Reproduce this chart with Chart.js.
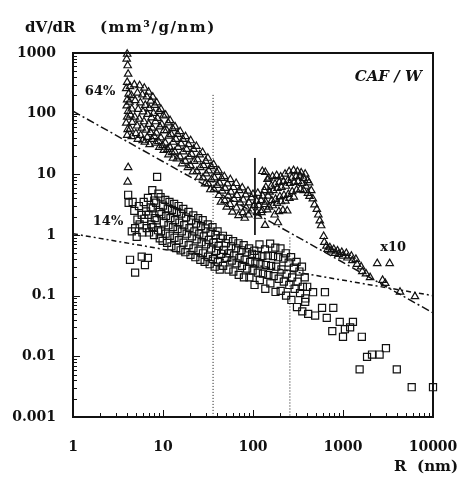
<!DOCTYPE html>
<html><head><meta charset="utf-8">
<script src="https://cdn.jsdelivr.net/npm/chart.js@4.4.1/dist/chart.umd.min.js"></script>
<style>html,body{margin:0;padding:0;background:#fff;}canvas{display:block;}</style>
</head><body>
<canvas id="c" width="462" height="477"></canvas>
<script>
// ---- tick labels ----
const xTicks = [1, 10, 100, 1000, 10000];
const yTicks = [0.001, 0.01, 0.1, 1, 10, 100, 1000];

// ---- 64% sample (triangles, x10) : [R (nm), dV/dR] ----
const triangles64 = [
 [4.0,960],[3.95,800],[4.05,620],[4.1,450],[4.0,330],[3.9,260],[4.15,210],[4.0,170],[3.95,135],[4.1,110],[4.0,88],[3.9,70],[4.05,55],[4.0,44],
 [4.3,280],[4.45,200],[4.25,155],[4.5,120],[4.35,95],[4.55,72],[4.3,56],[4.5,42],
 [4.8,300],[5.2,220],[4.9,165],[5.3,118],[4.85,88],[5.15,63],[5.0,47],[5.25,38],
 [5.5,290],[5.9,205],[5.6,152],[6.0,108],[5.45,82],[5.8,58],[5.65,44],[5.95,36],
 [6.2,265],[6.6,190],[6.35,138],[6.75,98],[6.15,74],[6.5,54],[6.7,41],[6.3,34],
 [6.9,228],[7.3,162],[7.0,122],[7.45,86],[6.95,67],[7.25,49],[7.5,38],[7.1,31],
 [7.7,188],[8.1,138],[7.85,102],[8.25,74],[7.6,58],[8.0,42],[8.3,33],
 [8.5,152],[9.0,110],[8.7,84],[9.2,61],[8.45,48],[8.9,35],[9.1,28],
 [9.5,118],[10.1,92],[9.7,66],[10.3,53],[9.45,40],[9.9,30],[10.2,25],
 [10.7,95],[11.4,71],[11.0,53],[11.6,43],[10.6,33],[11.2,26],[11.5,21],
 [12.0,77],[12.8,57],[12.3,46],[13.0,34],[11.9,28],[12.6,23],[12.9,18.5],
 [13.6,61],[14.5,46],[13.9,38],[14.7,28],[13.5,23.5],[14.3,18],
 [15.5,51],[16.6,38],[15.9,32],[16.8,23.5],[15.4,19.5],[16.3,15],
 [17.8,42],[19.2,31],[18.3,26],[19.5,19.5],[17.7,16.5],[18.9,13],
 [20.3,36],[21.8,26],[20.8,21.5],[22.2,16.5],[20.2,14],[21.5,11],
 [23.5,29],[25.6,21],[24.2,17.5],[26.0,13],[23.8,11.2],[25.1,9],
 [27.5,23],[29.8,16.5],[28.2,14],[30.2,10.2],[27.8,8.8],[29.4,7],
 [31.5,18.5],[34.2,13.5],[32.2,11.5],[34.6,8.2],[31.8,7],[33.6,5.6],
 [36.5,14.5],[39.5,10.8],[37.2,8.8],[40.0,6.6],[36.8,5.6],
 [41.5,11.5],[44.8,8.6],[42.5,7.2],[45.5,5.3],[41.8,4.5],[44.0,3.5],
 [48,9.2],[52,7],[49,5.9],[53,4.4],[48.5,3.7],[51,2.9],
 [56,8.2],[60.5,6.1],[57,5.1],[61.5,3.9],[55.5,3.2],[59,2.4],
 [65,7.1],[70.5,5.4],[66.5,4.5],[72,3.4],[65.5,2.8],[69,2.1],
 [76,6],[83,4.6],[78,3.8],[84,2.8],[77,2.35],[81,1.9],
 [88,5.3],[96,4.1],[90,3.4],[97,2.5],[89,2.15],
 [100,4.7],[110,3.6],[103,3.1],[111,2.35],
 [113,4.9],[123,3.7],[116,3.05],[124,2.35],[114,2.05],
 [127,11.2],[134,5.4],[128,4.4],[135,3.2],[126,2.55],
 [137,10.8],[145,8.3],[139,6.1],[147,4.4],[138,3.5],[144,2.6],[136,1.45],
 [150,8.7],[160,6.4],[153,5.1],[162,3.7],[151,2.9],
 [165,9.2],[176,6.9],[168,5.4],[178,3.9],[166,3.05],[174,2.15],
 [183,9.6],[196,7.4],[187,5.9],[199,4.3],[185,3.35],[194,2.45],[189,1.6],
 [203,9.1],[218,7.6],[207,6.1],[221,4.5],[205,3.55],[215,2.55],
 [227,10.1],[244,7.9],[232,6.4],[247,4.7],[229,3.65],[240,2.5],
 [252,11.1],[270,8.7],[257,7.1],[273,5.2],[254,4.05],
 [282,11.6],[301,9.2],[287,7.4],[305,5.5],[284,4.25],
 [312,11.1],[333,9.4],[318,7.6],[336,5.7],
 [343,10.6],[364,8.6],[349,7.1],[366,5.4],
 [380,10.1],[405,7.9],[386,6.4],[408,4.9],
 [420,7.3],[444,5.4],[425,4.35],
 [462,3.95],[482,3.15],
 [512,2.65],[532,2.15],
 [552,1.72],[572,1.43],
 [610,0.95],[620,0.76],
 [655,0.66],[675,0.58],
 [715,0.62],[735,0.55],
 [790,0.58],[815,0.5],
 [870,0.55],[895,0.48],
 [970,0.52],[995,0.45],
 [1090,0.5],[1120,0.42],
 [1240,0.45],[1270,0.38],
 [1390,0.4],[1430,0.33],
 [1590,0.3],[1640,0.25],
 [1800,0.23],[2000,0.2],[2400,0.34],[2750,0.18],[2950,0.16],[3300,0.34],[4300,0.115],[6300,0.097],
 [4.1,13],[4.05,7.5]
];

// ---- 14% sample (squares) : [R (nm), dV/dR] ----
const squares14 = [
 [4.1,4.6],[4.15,3.4],[4.6,3.5],[4.5,1.15],
 [4.8,2.5],[5.2,1.8],[4.9,1.3],[5.1,0.93],
 [5.4,3.0],[5.8,2.15],[5.5,1.5],[5.9,1.1],
 [6.1,3.5],[6.5,2.45],[6.2,1.85],[6.6,1.3],
 [6.8,4.1],[7.3,2.85],[6.9,2.15],[7.4,1.5],[7.0,1.1],
 [7.6,5.5],[8.0,3.7],[7.7,2.75],[8.1,1.9],[7.65,1.35],[7.95,1.0],
 [8.6,9.1],[8.9,4.8],[8.4,3.4],[9.1,2.4],[8.5,1.75],[8.8,1.2],[9.2,0.88],
 [9.4,4.2],[10.0,3.05],[9.6,2.2],[10.2,1.6],[9.5,1.15],[9.9,0.8],
 [10.6,3.8],[11.3,2.75],[10.8,2.05],[11.5,1.45],[10.7,1.05],[11.1,0.74],
 [11.8,3.5],[12.6,2.6],[12.1,1.9],[12.9,1.35],[11.9,0.97],[12.4,0.65],
 [13.3,3.25],[14.2,2.4],[13.6,1.75],[14.5,1.25],[13.4,0.9],[14.0,0.61],
 [14.9,3.0],[15.9,2.25],[15.2,1.6],[16.2,1.15],[15.0,0.82],[15.7,0.56],
 [16.8,2.7],[18.0,1.95],[17.2,1.45],[18.3,1.05],[16.9,0.75],[17.7,0.52],
 [19.2,2.4],[20.6,1.75],[19.7,1.3],[21.0,0.95],[19.3,0.68],[20.2,0.47],
 [21.7,2.1],[23.3,1.55],[22.3,1.15],[23.7,0.85],[21.8,0.6],[22.9,0.43],
 [24.6,1.9],[26.4,1.4],[25.3,1.05],[26.8,0.76],[24.8,0.55],[26.0,0.39],
 [27.6,1.75],[29.6,1.28],[28.4,0.95],[30.0,0.7],[27.8,0.5],[29.0,0.36],
 [31.4,1.5],[33.8,1.1],[32.3,0.83],[34.3,0.6],[31.6,0.44],[33.0,0.33],
 [35.5,1.35],[38.2,1.0],[36.4,0.75],[38.8,0.55],[35.8,0.4],[37.5,0.3],
 [40.4,1.15],[43.5,0.88],[41.5,0.66],[44.2,0.49],[40.7,0.36],[42.7,0.27],
 [46.3,0.97],[49.8,0.73],[47.5,0.57],[50.6,0.42],[46.6,0.31],
 [53.2,0.86],[57.2,0.65],[54.6,0.5],[58.1,0.38],[53.5,0.27],
 [60.1,0.79],[64.6,0.6],[61.7,0.46],[65.6,0.34],[60.5,0.25],
 [68.9,0.73],[74.2,0.56],[70.8,0.42],[75.3,0.31],[69.4,0.22],
 [78.8,0.68],[84.8,0.52],[80.9,0.39],[86.1,0.28],[79.3,0.2],
 [90.6,0.6],[97.5,0.49],[93.0,0.36],[99.0,0.26],[91.2,0.2],
 [103.4,0.55],[111.3,0.47],[106.1,0.34],[113,0.24],[104,0.15],
 [118,0.7],[127,0.45],[121,0.33],[129,0.23],[119,0.18],
 [136,0.58],[146,0.46],[139,0.32],[148,0.22],[137,0.13],
 [155,0.72],[167,0.45],[159,0.31],[170,0.21],[156,0.16],
 [177,0.62],[190,0.43],[181,0.3],[193,0.19],[178,0.115],
 [202,0.6],[217,0.41],[207,0.27],[220,0.17],[203,0.12],
 [231,0.5],[249,0.35],[237,0.23],[253,0.15],[233,0.1],
 [265,0.43],[285,0.29],[272,0.2],[290,0.13],[267,0.085],
 [305,0.36],[328,0.25],[313,0.17],[333,0.11],[308,0.065],
 [350,0.3],[376,0.2],[358,0.14],[382,0.09],[353,0.055],
 [400,0.14],[380,0.079],[410,0.05],[465,0.114],[490,0.047],
 [585,0.063],[630,0.114],[660,0.043],[780,0.063],[760,0.026],
 [920,0.037],[1000,0.021],[1050,0.028],[1200,0.03],[1290,0.037],
 [1620,0.021],[1530,0.0061],[1850,0.0098],[2100,0.0107],[2550,0.0107],
 [3000,0.0136],[3960,0.0061],[5800,0.0031],[10000,0.0031],
 [4.3,0.39],[4.9,0.24],[5.8,0.44],[6.3,0.32],[6.8,0.42]
];

// ---- fitted dash-dot lines ----
const fit64 = [[1, 110], [10000, 0.052]];
const fit14 = [[1, 1.05], [10000, 0.1]];

// ---- vertical marker lines ----
const vLineA = [[36, 204], [36, 0.001]];
const vLineB = [[105, 18.6], [105, 1.0]];
const vLineC = [[257, 0.91], [257, 0.001]];

// ---- annotations (anchored in data coordinates) ----
const notes = [
  {text: '64%', R: 2.0, V: 230, font: 'bold 13px "DejaVu Serif"', align: 'center'},
  {text: '14%', R: 2.45, V: 1.64, font: 'bold 13px "DejaVu Serif"', align: 'center'},
  {text: 'x10', R: 3600, V: 0.62, font: 'bold 13px "DejaVu Serif"', align: 'center'},
  {text: 'CAF / W', R: 7500, V: 400, font: 'bold italic 15px "DejaVu Serif"', align: 'right'}
];

const pts = a => a.map(p => ({x: p[0], y: p[1]}));
const INK = '#111';

const decor = {
  id: 'decor',
  afterDraw(chart) {
    const {ctx, chartArea: a, scales: {x, y}} = chart;
    ctx.save();
    ctx.strokeStyle = INK;
    ctx.lineWidth = 2;
    ctx.strokeRect(a.left, a.top, a.right - a.left, a.bottom - a.top);
    ctx.lineWidth = 1;
    ctx.beginPath();
    for (let e = -3; e < 3; e++) {
      for (let m = 1; m < 10; m++) {
        const py = Math.round(y.getPixelForValue(m * Math.pow(10, e))) + 0.5;
        const L = m === 1 ? 7 : 4;
        ctx.moveTo(a.left, py); ctx.lineTo(a.left + L, py);
      }
    }
    for (let e = 0; e < 4; e++) {
      for (let m = 1; m < 10; m++) {
        const px = Math.round(x.getPixelForValue(m * Math.pow(10, e))) + 0.5;
        const L = m === 1 ? 7 : 4;
        ctx.moveTo(px, a.bottom); ctx.lineTo(px, a.bottom - L);
      }
    }
    ctx.stroke();
    ctx.fillStyle = INK;
    ctx.textBaseline = 'middle';
    ctx.font = 'bold 15px "DejaVu Serif"';
    ctx.textAlign = 'left';
    ctx.fillText('dV/dR', 25, 28);
    ctx.letterSpacing = '1.5px';
    ctx.fillText('(mm³/g/nm)', 100, 28);
    ctx.letterSpacing = '0px';
    ctx.textAlign = 'right';
    ctx.fillText('R  (nm)', 458, 467);
    notes.forEach(n => {
      ctx.font = n.font;
      ctx.textAlign = n.align;
      ctx.fillText(n.text, x.getPixelForValue(n.R), y.getPixelForValue(n.V));
    });
    ctx.restore();
  }
};

const lineDs = (data, dash, w) => ({
  type: 'line', data: pts(data), showLine: true, borderColor: INK, borderWidth: w,
  borderDash: dash, pointRadius: 0, fill: false, clip: false, tension: 0
});

new Chart(document.getElementById('c'), {
  type: 'scatter',
  data: {
    datasets: [
      {label: '64%', data: pts(triangles64), pointStyle: 'triangle', pointRadius: 4.3,
       borderColor: INK, borderWidth: 1.2, backgroundColor: 'rgba(255,255,255,0)', clip: false},
      {label: '14%', data: pts(squares14), pointStyle: 'rect', pointRadius: 5,
       borderColor: INK, borderWidth: 1.2, backgroundColor: 'rgba(255,255,255,0)', clip: false},
      lineDs(fit64, [8, 3, 2, 3], 1.5),
      lineDs(fit14, [5, 3, 2, 3], 1.5),
      lineDs(vLineA, [1, 2], 1),
      lineDs(vLineB, [], 1),
      lineDs(vLineC, [1, 2], 1)
    ]
  },
  options: {
    responsive: false,
    animation: false,
    events: [],
    layout: {padding: {top: 53, right: 29, bottom: 0, left: 0}},
    plugins: {legend: {display: false}, tooltip: {enabled: false}},
    scales: {
      x: {
        type: 'logarithmic', min: 1, max: 10000, position: 'bottom',
        afterBuildTicks: s => { s.ticks = xTicks.map(v => ({value: v})); },
        afterFit: s => { s.height = 60; s.paddingLeft = 0; s.paddingRight = 0; },
        ticks: {callback: v => String(v), color: INK, padding: 22, maxRotation: 0,
                font: {family: 'DejaVu Serif', weight: 'bold', size: 14}},
        grid: {display: false, drawTicks: false}, border: {display: false}
      },
      y: {
        type: 'logarithmic', min: 0.001, max: 1000,
        afterBuildTicks: s => { s.ticks = yTicks.map(v => ({value: v})); },
        afterFit: s => { s.width = 73; s.paddingTop = 0; s.paddingBottom = 0; },
        ticks: {callback: v => String(v), color: INK, padding: 17,
                font: {family: 'DejaVu Serif', weight: 'bold', size: 14}},
        grid: {display: false, drawTicks: false}, border: {display: false}
      }
    }
  },
  plugins: [decor]
});
</script>
</body></html>
